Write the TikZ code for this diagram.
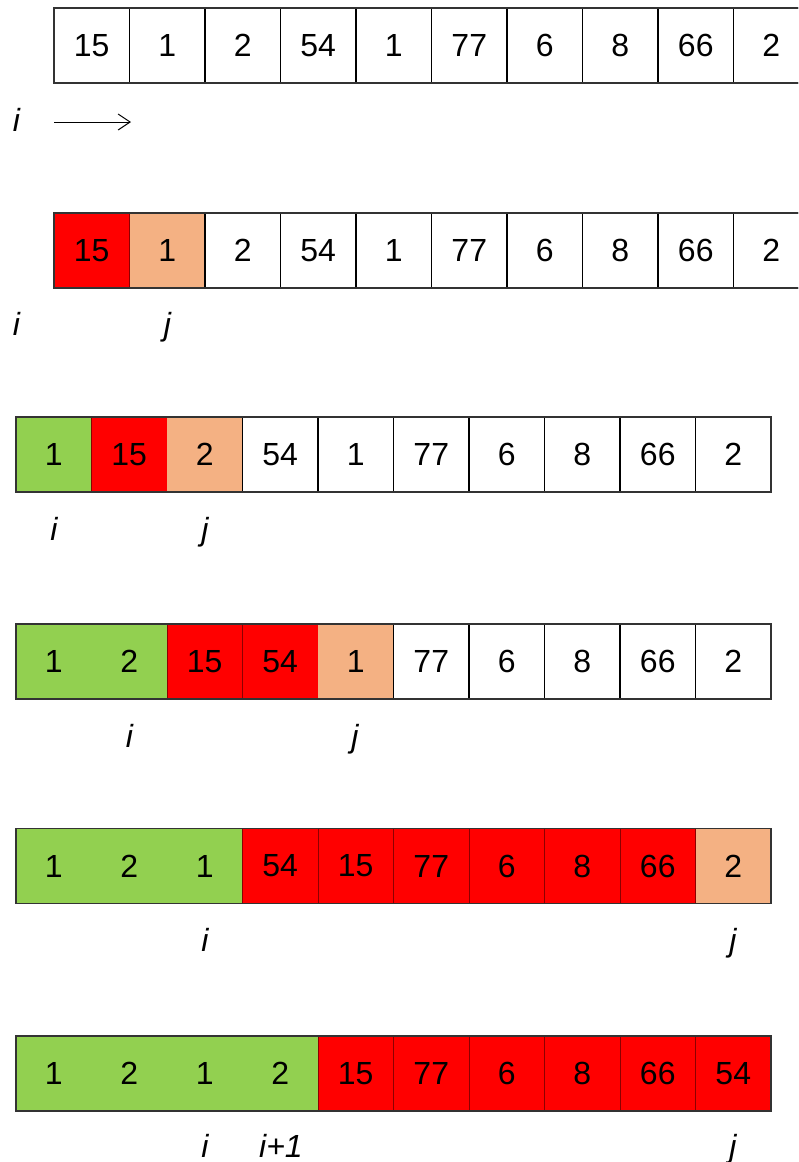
\documentclass[tikz,border=0pt]{standalone}
\usepackage{fontspec}
\usetikzlibrary{arrows.meta}
\newfontfamily\cellfont{Liberation Sans}
\definecolor{cgreen}{HTML}{92D050}
\definecolor{cred}{HTML}{FF0000}
\definecolor{corange}{HTML}{F4B183}
\tikzset{
  base cell/.style={minimum width=37.75pt, minimum height=37.5pt, inner sep=0pt, outer sep=0pt,
    font=\cellfont\fontsize{16}{19}\selectfont},
  wcell/.style={base cell, draw=black, line width=0.7pt, fill=white},
  gcell/.style={base cell, fill=cgreen},
  rcell/.style={base cell, fill=cred, draw=red!55!black, line width=0.35pt},
  ocell/.style={base cell, fill=corange},
  outline/.style={draw=black!80, line width=0.6pt},
  lab/.style={anchor=base, inner sep=0pt, font=\cellfont\itshape\fontsize{16}{19}\selectfont},
  arrowline/.style={line width=0.5pt, -{Straight Barb[length=6pt,width=8pt]}}
}
\begin{document}
\begin{tikzpicture}[x=0.5pt,y=-0.5pt]
\clip (0,0) rectangle (798,1162);
\fill[white] (0,0) rectangle (798,1162);
% row 1
\foreach \v/\s [count=\k] in {15/wcell,1/wcell,2/wcell,54/wcell,1/wcell,77/wcell,6/wcell,8/wcell,66/wcell,2/wcell}
  \node[\s] (r1c\k) at ({54+75.5*(\k-0.5)},45.5) {\v};
\draw[outline] (r1c1.north west) rectangle (r1c10.south east);
\node[lab] (l1i) at (16.5,131) {i};
\coordinate (a0) at (54,122);
\coordinate (a1) at (131,122);
\draw[arrowline] (a0) -- (a1);
% row 2
\foreach \v/\s [count=\k] in {15/rcell,1/ocell,2/wcell,54/wcell,1/wcell,77/wcell,6/wcell,8/wcell,66/wcell,2/wcell}
  \node[\s] (r2c\k) at ({54+75.5*(\k-0.5)},250.5) {\v};
\draw[outline] (r2c1.north west) rectangle (r2c10.south east);
\node[lab] (l2i) at (16.5,335) {i};
\node[lab] (l2j) at (167.5,335) {j};
% row 3
\foreach \v/\s [count=\k] in {1/gcell,15/rcell,2/ocell,54/wcell,1/wcell,77/wcell,6/wcell,8/wcell,66/wcell,2/wcell}
  \node[\s] (r3c\k) at ({16+75.5*(\k-0.5)},454.5) {\v};
\draw[outline] (r3c1.north west) rectangle (r3c10.south east);
\node[lab] (l3i) at (54,540) {i};
\node[lab] (l3j) at (205,540) {j};
% row 4
\foreach \v/\s [count=\k] in {1/gcell,2/gcell,15/rcell,54/rcell,1/ocell,77/wcell,6/wcell,8/wcell,66/wcell,2/wcell}
  \node[\s] (r4c\k) at ({16+75.5*(\k-0.5)},661.5) {\v};
\draw[outline] (r4c1.north west) rectangle (r4c10.south east);
\node[lab] (l4i) at (129.5,747) {i};
\node[lab] (l4j) at (355,747) {j};
% row 5
\foreach \v/\s [count=\k] in {1/gcell,2/gcell,1/gcell,54/rcell,15/rcell,77/rcell,6/rcell,8/rcell,66/rcell,2/ocell}
  \node[\s] (r5c\k) at ({16+75.5*(\k-0.5)},866) {\v};
\draw[outline] (r5c1.north west) rectangle (r5c10.south east);
\node[lab] (l5i) at (205,951) {i};
\node[lab] (l5j) at (733,951) {j};
% row 6
\foreach \v/\s [count=\k] in {1/gcell,2/gcell,1/gcell,2/gcell,15/rcell,77/rcell,6/rcell,8/rcell,66/rcell,54/rcell}
  \node[\s] (r6c\k) at ({16+75.5*(\k-0.5)},1073.5) {\v};
\draw[outline] (r6c1.north west) rectangle (r6c10.south east);
\node[lab] (l6i) at (205,1157) {i};
\node[lab] (l6ip) at (281,1157) {i+1};
\node[lab] (l6j) at (733,1157) {j};
\end{tikzpicture}
\end{document}
